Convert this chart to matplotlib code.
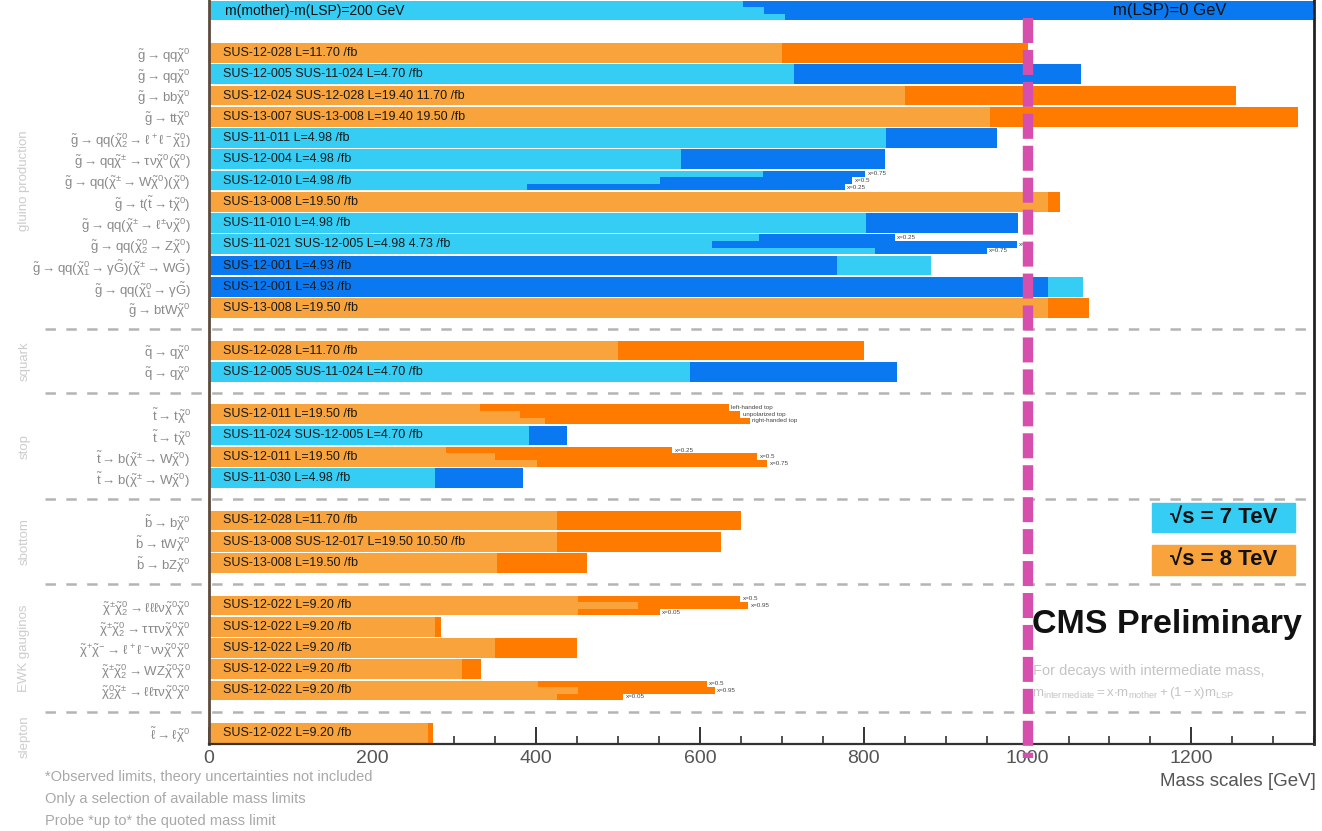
import matplotlib
matplotlib.use("Agg")
import matplotlib.pyplot as plt
from matplotlib.patches import Rectangle
from matplotlib.ticker import MultipleLocator

plt.rcParams['font.family'] = ['Liberation Sans', 'DejaVu Sans']
plt.rcParams['mathtext.fontset'] = 'custom'
plt.rcParams['mathtext.rm'] = 'Liberation Sans'
plt.rcParams['mathtext.it'] = 'Liberation Sans'
plt.rcParams['mathtext.bf'] = 'Liberation Sans:bold'
plt.rcParams['mathtext.fallback'] = 'stixsans'
plt.rcParams['lines.scale_dashes'] = False

# ---------------------------------------------------------------- data
C7_LIGHT, C7_DARK = '#36cdf5', '#0a78f0'
C8_LIGHT, C8_DARK = '#f9a33c', '#ff7b00'

# vertical slot of every analysis row (gaps hold the group separators)
rows = [0, 1, 2, 3, 4, 5, 6, 7, 8, 9, 10, 11, 12,
        14, 15,
        17, 18, 19, 20,
        22, 23, 24,
        26, 27, 28, 29, 30,
        32]

decays = [
    r'$\tilde{g}\rightarrow qq\tilde{\chi}^0$',
    r'$\tilde{g}\rightarrow qq\tilde{\chi}^0$',
    r'$\tilde{g}\rightarrow bb\tilde{\chi}^0$',
    r'$\tilde{g}\rightarrow tt\tilde{\chi}^0$',
    r'$\tilde{g}\rightarrow qq(\tilde{\chi}^0_2\rightarrow \ell^+\ell^-\tilde{\chi}^0_1)$',
    r'$\tilde{g}\rightarrow qq\tilde{\chi}^{\pm}\rightarrow \tau\nu\tilde{\chi}^0(\tilde{\chi}^0)$',
    r'$\tilde{g}\rightarrow qq(\tilde{\chi}^{\pm}\rightarrow W\tilde{\chi}^0)(\tilde{\chi}^0)$',
    r'$\tilde{g}\rightarrow t(\tilde{t}\rightarrow t\tilde{\chi}^0)$',
    r'$\tilde{g}\rightarrow qq(\tilde{\chi}^{\pm}\rightarrow \ell^{\pm}\nu\tilde{\chi}^0)$',
    r'$\tilde{g}\rightarrow qq(\tilde{\chi}^0_2\rightarrow Z\tilde{\chi}^0)$',
    r'$\tilde{g}\rightarrow qq(\tilde{\chi}^0_1\rightarrow\gamma\tilde{G})(\tilde{\chi}^{\pm}\rightarrow W\tilde{G})$',
    r'$\tilde{g}\rightarrow qq(\tilde{\chi}^0_1\rightarrow\gamma\tilde{G})$',
    r'$\tilde{g}\rightarrow btW\tilde{\chi}^0$',
    r'$\tilde{q}\rightarrow q\tilde{\chi}^0$',
    r'$\tilde{q}\rightarrow q\tilde{\chi}^0$',
    r'$\tilde{t}\rightarrow t\tilde{\chi}^0$',
    r'$\tilde{t}\rightarrow t\tilde{\chi}^0$',
    r'$\tilde{t}\rightarrow b(\tilde{\chi}^{\pm}\rightarrow W\tilde{\chi}^0)$',
    r'$\tilde{t}\rightarrow b(\tilde{\chi}^{\pm}\rightarrow W\tilde{\chi}^0)$',
    r'$\tilde{b}\rightarrow b\tilde{\chi}^0$',
    r'$\tilde{b}\rightarrow tW\tilde{\chi}^0$',
    r'$\tilde{b}\rightarrow bZ\tilde{\chi}^0$',
    r'$\tilde{\chi}^{\pm}\tilde{\chi}^0_2\rightarrow \ell\ell\ell\nu\tilde{\chi}^0\tilde{\chi}^0$',
    r'$\tilde{\chi}^{\pm}\tilde{\chi}^0_2\rightarrow \tau\tau\tau\nu\tilde{\chi}^0\tilde{\chi}^0$',
    r'$\tilde{\chi}^{+}\tilde{\chi}^{-}\rightarrow \ell^+\ell^-\nu\nu\tilde{\chi}^0\tilde{\chi}^0$',
    r'$\tilde{\chi}^{\pm}\tilde{\chi}^0_2\rightarrow WZ\tilde{\chi}^0\tilde{\chi}^0$',
    r'$\tilde{\chi}^0_2\tilde{\chi}^{\pm}\rightarrow \ell\ell\tau\nu\tilde{\chi}^0\tilde{\chi}^0$',
    r'$\tilde{\ell}\rightarrow \ell\tilde{\chi}^0$',
]

analyses = [
    'SUS-12-028 L=11.70 /fb',
    'SUS-12-005 SUS-11-024 L=4.70 /fb',
    'SUS-12-024 SUS-12-028 L=19.40 11.70 /fb',
    'SUS-13-007 SUS-13-008 L=19.40 19.50 /fb',
    'SUS-11-011 L=4.98 /fb',
    'SUS-12-004 L=4.98 /fb',
    'SUS-12-010 L=4.98 /fb',
    'SUS-13-008 L=19.50 /fb',
    'SUS-11-010 L=4.98 /fb',
    'SUS-11-021 SUS-12-005 L=4.98 4.73 /fb',
    'SUS-12-001 L=4.93 /fb',
    'SUS-12-001 L=4.93 /fb',
    'SUS-13-008 L=19.50 /fb',
    'SUS-12-028 L=11.70 /fb',
    'SUS-12-005 SUS-11-024 L=4.70 /fb',
    'SUS-12-011 L=19.50 /fb',
    'SUS-11-024 SUS-12-005 L=4.70 /fb',
    'SUS-12-011 L=19.50 /fb',
    'SUS-11-030 L=4.98 /fb',
    'SUS-12-028 L=11.70 /fb',
    'SUS-13-008 SUS-12-017 L=19.50 10.50 /fb',
    'SUS-13-008 L=19.50 /fb',
    'SUS-12-022 L=9.20 /fb',
    'SUS-12-022 L=9.20 /fb',
    'SUS-12-022 L=9.20 /fb',
    'SUS-12-022 L=9.20 /fb',
    'SUS-12-022 L=9.20 /fb',
    'SUS-12-022 L=9.20 /fb',
]

sqrt_s = [8, 7, 8, 8, 7, 7, 7, 8, 7, 7, 7, 7, 8,
          8, 7,
          8, 7, 8, 7,
          8, 8, 8,
          8, 8, 8, 8, 8,
          8]

# mass limit for m(LSP)=0 [GeV]; several entries = variants of one row
limit_lsp0 = [[1000], [1065], [1255], [1330], [963], [826],
              [802, 786, 777], [1040], [988], [838, 987, 950],
              [767], [1025], [1075],
              [800], [840],
              [635, 649, 661], [438], [566, 670, 682], [384],
              [650], [626], [462],
              [649, 659, 551], [284], [450], [332], [608, 618, 506],
              [274]]

# mass limit for m(mother)-m(LSP)=200 GeV [GeV]
limit_dm200 = [[700], [715], [850], [954], [827], [577],
               [677, 551, 389], [1025], [803], [672, 615, 814],
               [882], [1068], [1025],
               [500], [588],
               [331, 380, 411], [391], [290, 350, 401], [277],
               [425], [425], [352],
               [451, 524, 451], [277], [350], [310], [402, 451, 426],
               [268]]

variant_notes = {
    6: ['x=0.75', 'x=0.5', 'x=0.25'],
    9: ['x=0.25', 'x=0.5', 'x=0.75'],
    15: ['left-handed top', 'unpolarized top', 'right-handed top'],
    17: ['x=0.25', 'x=0.5', 'x=0.75'],
    22: ['x=0.5', 'x=0.95', 'x=0.05'],
    26: ['x=0.5', 'x=0.95', 'x=0.05'],
}

banner_light_steps = [652, 678, 704]   # m(mother)-m(LSP)=200 GeV reach in header
separators = [13, 16, 21, 25, 31]
groups = [('gluino production', 6), ('squark', 14.5), ('stop', 18.5),
          ('sbottom', 23), ('EWK gauginos', 28), ('slepton', 32.2)]

XMAX = 1350
REF_LINE = 1000

# ---------------------------------------------------------------- figure
fig = plt.figure(figsize=(13.22, 8.31), dpi=100)
ax = fig.add_axes([208.6 / 1322, 1 - 743.5 / 831, XMAX * 0.819 / 1322, 743.5 / 831])
ax.set_xlim(0, XMAX)
ax.set_ylim(32.5, -2.5)

H = 0.93
for i, r in enumerate(rows):
    dark, light = (C7_DARK, C7_LIGHT) if sqrt_s[i] == 7 else (C8_DARK, C8_LIGHT)
    lo, hi = limit_lsp0[i], limit_dm200[i]
    n = len(lo)
    sub = H / n
    for k in range(n):
        yc = r - H / 2 + sub * (k + 0.5)
        for val, col in sorted([(lo[k], dark), (hi[k], light)], reverse=True):
            ax.barh(yc, val, height=sub, color=col, edgecolor='none', zorder=2)
        if i in variant_notes:
            ax.text(max(lo[k], hi[k]) + 3, yc, variant_notes[i][k], fontsize=4.5,
                    color='#444444', va='center', ha='left', zorder=4)
    ax.text(18, r, analyses[i], fontsize=9, color='#1a1a1a', va='center',
            ha='left', zorder=5)

# header band
ax.barh(-2, XMAX, height=H, color=C7_DARK, edgecolor='none', zorder=2)
nb = len(banner_light_steps)
for k, v in enumerate(banner_light_steps):
    ax.barh(-2 - H / 2 + H / nb * (k + 0.5), v, height=H / nb, color=C7_LIGHT,
            edgecolor='none', zorder=2)
ax.text(20, -2, 'm(mother)-m(LSP)=200 GeV', fontsize=10, va='center', ha='left',
        color='#111111', zorder=5)
ax.text(1104, -2, 'm(LSP)=0 GeV', fontsize=12, va='center', ha='left',
        color='#111111', zorder=5)

# group separators
for s in separators:
    ax.plot([-200, XMAX], [s, s], color='#b4b4b4', lw=1.8, dashes=(7.5, 7.5),
            clip_on=False, zorder=3)

# group names
for name, yc in groups:
    ax.text(-225, yc, name, rotation=90, fontsize=9.5, color='#cccccc',
            va='center', ha='center', clip_on=False)

# reference line at 1 TeV
ax.plot([REF_LINE, REF_LINE], [-1.65, 33.2], color='#d64fac', lw=7.5,
        dashes=(18, 5), clip_on=False, zorder=6, solid_capstyle='butt',
        dash_capstyle='butt')

# legend boxes
for (label, col, y0, y1) in [('\u221as = 7 TeV', C7_LIGHT, 21.18, 22.55),
                             ('\u221as = 8 TeV', C8_LIGHT, 23.15, 24.56)]:
    ax.add_patch(Rectangle((1152, y0), 174, y1 - y0, color=col, zorder=4))
    ax.text(1239, (y0 + y1) / 2, label, fontsize=16, fontweight='bold',
            ha='center', va='center', color='#111111', zorder=5)

ax.text(1005, 26.9, 'CMS Preliminary', fontsize=24.5, fontweight='bold',
        ha='left', va='center', color='#111111', zorder=5)
ax.text(1007, 29.1, 'For decays with intermediate mass,', fontsize=10.5,
        ha='left', va='center', color='#c4c4c4', zorder=5)
ax.text(1005, 30.1,
        r'$m_{\mathrm{intermediate}} = x{\cdot}m_{\mathrm{mother}}+(1-x)m_{\mathrm{LSP}}$',
        fontsize=9.5, ha='left', va='center', color='#c4c4c4', zorder=5)

# axes styling
ax.set_yticks(rows)
ax.set_yticklabels(decays, fontsize=9.5, color='#8a8a8a')
ax.tick_params(axis='y', length=0, pad=13)
ax.set_xticks(range(0, 1201, 200))
ax.xaxis.set_minor_locator(MultipleLocator(50))
ax.tick_params(axis='x', which='major', direction='in', length=12, width=1.4,
               color='#333333', labelsize=14, labelcolor='#555555', pad=5)
ax.tick_params(axis='x', which='minor', direction='in', length=6, width=1.2,
               color='#333333')
ax.spines['top'].set_visible(False)
ax.spines['left'].set_color('#5e4a3c')
ax.spines['left'].set_linewidth(2)
ax.spines['bottom'].set_color('#333333')
ax.spines['bottom'].set_linewidth(1.6)
ax.spines['right'].set_color('#222222')
ax.spines['right'].set_linewidth(2)

fig.text(1316 / 1322, 1 - 782 / 831, 'Mass scales [GeV]', fontsize=13.5,
         color='#555555', ha='right', va='center')
notes = ['*Observed limits, theory uncertainties not included',
         'Only a selection of available mass limits',
         'Probe *up to* the quoted mass limit']
for j, t in enumerate(notes):
    fig.text(45 / 1322, 1 - (777 + 22 * j) / 831, t, fontsize=10.5,
             color='#a8a8a8', ha='left', va='center')

fig.savefig('out.png', dpi=100)
